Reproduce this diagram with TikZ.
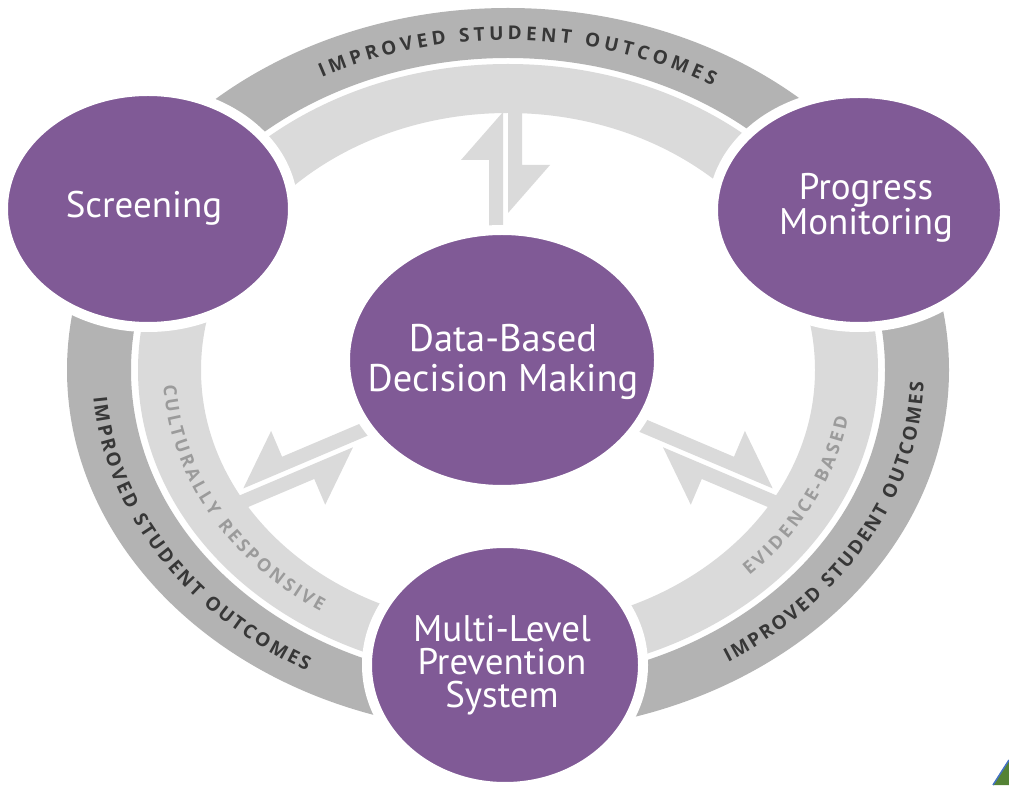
\documentclass[tikz,border=0pt]{standalone}
\usepackage{fontspec}
\setmainfont{PT Sans}
\newfontfamily\arcfont{Open Sans}
\usetikzlibrary{shapes.geometric,decorations.text}
\definecolor{rtipurple}{RGB}{128,90,150}
\definecolor{banddark}{RGB}{179,179,179}
\definecolor{bandlight}{RGB}{218,218,218}
\definecolor{arctextdark}{RGB}{55,55,55}
\definecolor{arctextlight}{RGB}{155,155,155}
\definecolor{cornergreen}{RGB}{84,130,53}
\definecolor{cornerblue}{RGB}{68,114,196}
\newcommand{\splitpair}[5]{%
 \begin{scope}[shift={(#1,#2)}, rotate=#3, yscale=#5]
  \fill[bandlight] (-60,2.5) -- (#4,2.5) -- ({#4-48},44.5) -- ({#4-48},16.5) -- (-60,16.5) -- cycle;
  \fill[bandlight] (0,-2.5) -- ({#4+30},-2.5) -- ({#4+30},-16.5) -- (48,-16.5) -- (48,-44.5) -- cycle;
 \end{scope}}
\begin{document}
\begin{tikzpicture}[x=1pt,y=1pt,
  blob/.style={ellipse, fill=rtipurple, draw=white, line width=10pt, inner sep=0pt},
  lbl/.style={text=white, align=center, inner sep=0pt, font=\fontsize{37}{33}\selectfont},
  arcdark/.style={decorate, decoration={text along path, text align={fit to path}, raise=-7pt,
     text={|\arcfont\bfseries\fontsize{19}{19}\selectfont\color{arctextdark}|#1}}},
  arclight/.style={decorate, decoration={text along path, text align={fit to path}, raise=-7pt,
     text={|\arcfont\bfseries\fontsize{18}{19}\selectfont\color{arctextlight}|#1}}}]
\useasboundingbox (0,0) rectangle (1009,785);
\fill[white] (0,0) rectangle (1009,785);
% rings
\fill[banddark, even odd rule] (508,415) ellipse [x radius=441pt, y radius=362pt]
   (508,415) ellipse [x radius=377pt, y radius=312pt];
\fill[bandlight, even odd rule] (508,415) ellipse [x radius=370pt, y radius=306pt]
   (508,415) ellipse [x radius=307pt, y radius=257pt];
% split arrows
\splitpair{505.5}{572}{90}{101}{1}
\splitpair{664}{340}{-23}{117}{1}
\splitpair{352}{340}{203}{117}{-1}
% arc texts
\path[arcdark={IMPROVED STUDENT OUTCOMES}] (508,415) ++(117.5:409pt and 337pt)
   arc[start angle=117.5, end angle=59.5, x radius=409pt, y radius=337pt];
\path[arcdark={IMPROVED STUDENT OUTCOMES}] (508,415) ++(184.5:409pt and 337pt)
   arc[start angle=184.5, end angle=241, x radius=409pt, y radius=337pt];
\path[arcdark={IMPROVED STUDENT OUTCOMES}] (508,415) ++(-58:409pt and 337pt)
   arc[start angle=-58, end angle=-2, x radius=409pt, y radius=337pt];
\path[arclight={CULTURALLY RESPONSIVE}] (508,415) ++(183:338pt and 281pt)
   arc[start angle=183, end angle=237, x radius=338pt, y radius=281pt];
\path[arclight={EVIDENCE-BASED}] (508,415) ++(-45.5:338pt and 281pt)
   arc[start angle=-45.5, end angle=-9.5, x radius=338pt, y radius=281pt];
% circles
\node[blob, minimum width=290pt, minimum height=236pt] (screen) at (148,576) {};
\node[blob, minimum width=292pt, minimum height=234pt] (progress) at (859,575) {};
\node[blob, minimum width=314pt, minimum height=260pt] (data) at (502,425) {};
\node[blob, minimum width=276pt, minimum height=244pt] (multi) at (505,120) {};
\node[lbl] (screent) at (144,577) {Screening};
\node[lbl] (progresst) at (866,577) {Progress\\Monitoring};
\node[lbl, font=\fontsize{38.5}{40}\selectfont] (datat) at (503,423) {Data-Based\\Decision Making};
\node[lbl] (multit) at (502,120) {Multi-Level\\Prevention\\System};
% corner mark
\fill[cornergreen] (993,0) -- (1009,0) -- (1009,25) -- cycle;
\draw[cornerblue, line width=1.5pt] (993,0) -- (1009,25);
\end{tikzpicture}
\end{document}
